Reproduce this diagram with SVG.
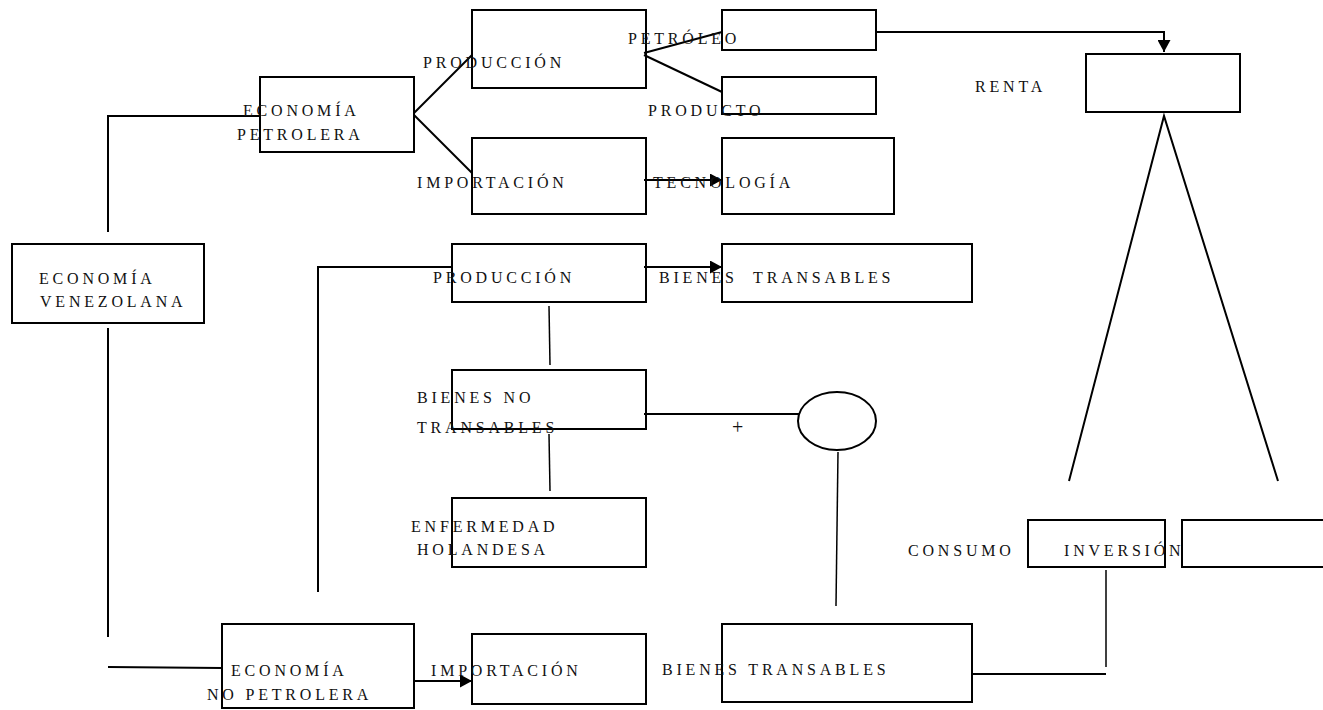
<svg xmlns="http://www.w3.org/2000/svg" width="1323" height="710" viewBox="0 0 1323 710">
<style>
.box{fill:none;stroke:#000;stroke-width:2}
.ln{fill:none;stroke:#000;stroke-width:2}
.thin{fill:none;stroke:#000;stroke-width:1.5}
.t{font-family:"Liberation Serif","Times New Roman",serif;font-size:16px;letter-spacing:3.8px;fill:#111}
</style>
<defs>
<marker id="ah" markerUnits="userSpaceOnUse" markerWidth="13" markerHeight="13" refX="12" refY="6.5" orient="auto">
<path d="M0,0 L12,6.5 L0,13 z" fill="#000"/>
</marker>
</defs>
<rect width="1323" height="710" fill="#fff"/>
<g id="connectors">
<polyline class="ln" points="108,232 108,116 260,116"/>
<line class="ln" x1="108" y1="328" x2="108" y2="637"/>
<line class="ln" x1="108" y1="667" x2="222" y2="668"/>
<line class="ln" x1="414" y1="113" x2="472" y2="55"/>
<line class="ln" x1="414" y1="115" x2="472" y2="173"/>
<line class="ln" x1="644" y1="53" x2="722" y2="32"/>
<line class="ln" x1="644" y1="55" x2="722" y2="92"/>
<line class="ln" x1="644" y1="180" x2="722" y2="180" marker-end="url(#ah)"/>
<polyline class="ln" points="876,32 1164,32 1164,52" marker-end="url(#ah)"/>
<polyline class="ln" points="1069,481 1164,116 1278,481"/>
<polyline class="ln" points="318,592 318,267 452,267"/>
<line class="ln" x1="644" y1="267" x2="722" y2="267" marker-end="url(#ah)"/>
<line class="thin" x1="549" y1="306" x2="550" y2="365"/>
<line class="thin" x1="549" y1="434" x2="550" y2="491"/>
<line class="ln" x1="644" y1="414" x2="799" y2="414"/>
<line class="thin" x1="838" y1="452" x2="836" y2="606"/>
<line class="ln" x1="414" y1="681" x2="472" y2="681" marker-end="url(#ah)"/>
<line class="ln" x1="972" y1="674" x2="1106" y2="674"/>
<line class="thin" x1="1106" y1="570" x2="1106" y2="667"/>
</g>
<g id="n-venezolana">
<rect class="box" x="12" y="244" width="192" height="79"/>
<text class="t" x="39" y="284">ECONOMÍA</text>
<text class="t" x="40" y="307">VENEZOLANA</text>
</g>
<g id="n-petrolera">
<rect class="box" x="260" y="77" width="154" height="75"/>
<text class="t" x="243" y="116">ECONOMÍA</text>
<text class="t" x="237" y="140">PETROLERA</text>
</g>
<g id="n-produccion1">
<rect class="box" x="472" y="10" width="174" height="78"/>
<text class="t" x="423" y="68">PRODUCCIÓN</text>
</g>
<g id="n-importacion1">
<rect class="box" x="472" y="138" width="174" height="76"/>
<text class="t" x="417" y="188">IMPORTACIÓN</text>
</g>
<g id="n-petroleo">
<rect class="box" x="722" y="10" width="154" height="40"/>
<text class="t" x="628" y="44">PETRÓLEO</text>
</g>
<g id="n-producto">
<rect class="box" x="722" y="77" width="154" height="37"/>
<text class="t" x="648" y="116">PRODUCTO</text>
</g>
<g id="n-tecnologia">
<rect class="box" x="722" y="138" width="172" height="76"/>
<text class="t" x="653" y="188">TECNOLOGÍA</text>
</g>
<g id="n-renta">
<rect class="box" x="1086" y="54" width="154" height="58"/>
<text class="t" x="975" y="92">RENTA</text>
</g>
<g id="n-produccion2">
<rect class="box" x="452" y="244" width="194" height="58"/>
<text class="t" x="433" y="283">PRODUCCIÓN</text>
</g>
<g id="n-transables1">
<rect class="box" x="722" y="244" width="250" height="58"/>
<text class="t" x="659" y="283" xml:space="preserve">BIENES  TRANSABLES</text>
</g>
<g id="n-notransables">
<rect class="box" x="452" y="370" width="194" height="59"/>
<text class="t" x="417" y="403">BIENES NO</text>
<text class="t" x="417" y="433">TRANSABLES</text>
</g>
<g id="n-circle">
<ellipse class="box" cx="837" cy="421" rx="39" ry="29"/>
<text class="t" x="732" y="434" style="letter-spacing:0;font-size:20px">+</text>
</g>
<g id="n-enfermedad">
<rect class="box" x="452" y="498" width="194" height="69"/>
<text class="t" x="411" y="532">ENFERMEDAD</text>
<text class="t" x="417" y="555">HOLANDESA</text>
</g>
<g id="n-inversion">
<rect class="box" x="1028" y="520" width="137" height="47"/>
<text class="t" x="908" y="556">CONSUMO</text>
<text class="t" x="1064" y="556">INVERSIÓN</text>
</g>
<g id="n-right">
<rect class="box" x="1182" y="520" width="150" height="47"/>
</g>
<g id="n-nopetrolera">
<rect class="box" x="222" y="624" width="192" height="84"/>
<text class="t" x="231" y="676">ECONOMÍA</text>
<text class="t" x="207" y="700">NO PETROLERA</text>
</g>
<g id="n-importacion2">
<rect class="box" x="472" y="634" width="174" height="70"/>
<text class="t" x="431" y="676">IMPORTACIÓN</text>
</g>
<g id="n-transables2">
<rect class="box" x="722" y="624" width="250" height="78"/>
<text class="t" x="662" y="675">BIENES TRANSABLES</text>
</g>
</svg>
